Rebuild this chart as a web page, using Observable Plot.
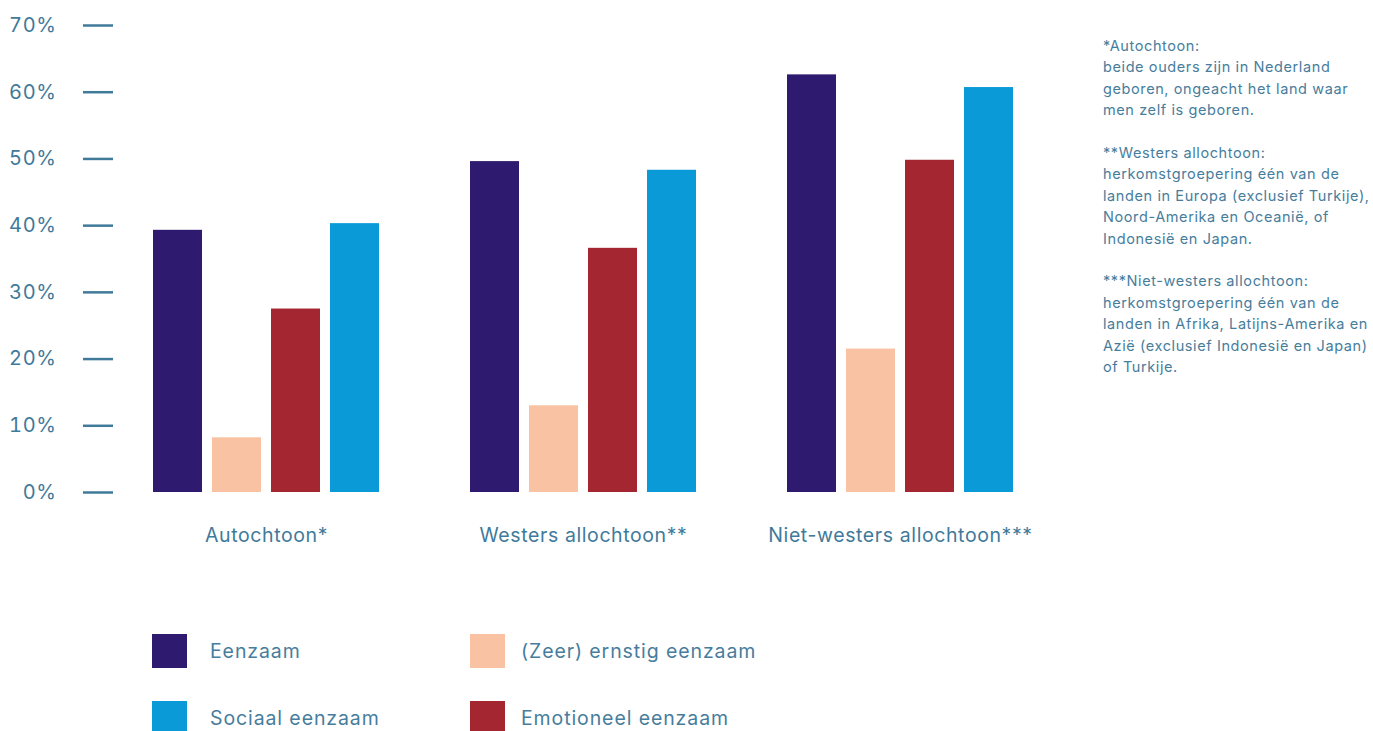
<!DOCTYPE html>
<html>
<head>
<meta charset="utf-8">
<script src="https://cdn.jsdelivr.net/npm/d3@7"></script>
<script src="https://cdn.jsdelivr.net/npm/@observablehq/plot@0.6"></script>
<style>
  html, body { margin: 0; padding: 0; background: #fff; }
  #wrap { position: relative; width: 1373px; height: 731px; overflow: hidden; font-family: Inter, "Noto Sans", sans-serif; color: #477d9c; }
  #chart { position: absolute; left: 0; top: 0; }
  #note { position: absolute; left: 1103px; top: 35px; font-size: 14.5px; letter-spacing: 0.6px; line-height: 21.4px; white-space: pre; color: #477d9c; }
  .lg { position: absolute; display: flex; align-items: center; font-size: 19.5px; letter-spacing: 0.9px; color: #477d9c; }
  .sw { width: 35px; height: 34px; }
</style>
</head>
<body>
<div id="wrap">
  <div id="chart"></div>
  <div id="note"></div>
  <div id="legend"></div>
</div>
<script>
const groups = ["Autochtoon*", "Westers allochtoon**", "Niet-westers allochtoon***"];
const series = ["Eenzaam", "(Zeer) ernstig eenzaam", "Emotioneel eenzaam", "Sociaal eenzaam"];
const colors = ["#2e1a6e", "#f9c3a3", "#a32631", "#0a9ad8"];
const eenzaam = [39.3, 49.6, 62.6];
const ernstig = [8.2, 13.0, 21.5];
const emotioneel = [27.5, 36.6, 49.8];
const sociaal = [40.3, 48.3, 60.7];
const yTicks = [0, 10, 20, 30, 40, 50, 60, 70];
const legendOrder = ["Eenzaam", "(Zeer) ernstig eenzaam", "Sociaal eenzaam", "Emotioneel eenzaam"];
const noteText = [
  "*Autochtoon:",
  "beide ouders zijn in Nederland",
  "geboren, ongeacht het land waar",
  "men zelf is geboren.",
  "",
  "**Westers allochtoon:",
  "herkomstgroepering één van de",
  "landen in Europa (exclusief Turkije),",
  "Noord-Amerika en Oceanië, of",
  "Indonesië en Japan.",
  "",
  "***Niet-westers allochtoon:",
  "herkomstgroepering één van de",
  "landen in Afrika, Latijns-Amerika en",
  "Azië (exclusief Indonesië en Japan)",
  "of Turkije."
];

const valuesBySeries = [eenzaam, ernstig, emotioneel, sociaal];
const data = [];
groups.forEach((g, gi) => series.forEach((s, si) => data.push({group: g, series: s, value: valuesBySeries[si][gi]})));

const axisColor = "#3f7a9a";
const plot = Plot.plot({
  width: 1060,
  height: 560,
  marginTop: 25,
  marginBottom: 68,
  marginLeft: 112,
  marginRight: 7,
  style: { fontFamily: "Inter, 'Noto Sans', sans-serif", background: "transparent", letterSpacing: "0.6px" },
  fx: { domain: groups, paddingInner: 0.288, paddingOuter: 0.126, label: null },
  x: { domain: series, paddingInner: 0.17, paddingOuter: 0, axis: null },
  y: { domain: [0, 70], label: null },
  color: { domain: series, range: colors },
  marks: [
    Plot.barY(data, { fx: "group", x: "series", y: "value", fill: "series" }),
    Plot.axisY({ ticks: yTicks, tickFormat: d => d + "%", tickSize: 30, tickPadding: 27, dx: -40, color: axisColor, strokeWidth: 2.5, fontSize: 20, label: null }),
    Plot.axisFx({ anchor: "bottom", tickSize: 0, tickPadding: 36, color: axisColor, fontSize: 19.5, label: null, style: { letterSpacing: "0.95px" } })
  ]
});
document.getElementById("chart").appendChild(plot);

document.getElementById("note").textContent = noteText.join("\n");

const legendPos = [
  { sx: 152, tx: 210, y: 634 },
  { sx: 470, tx: 521, y: 634 },
  { sx: 152, tx: 210, y: 701 },
  { sx: 470, tx: 521, y: 701 }
];
const lg = document.getElementById("legend");
legendOrder.forEach((name, i) => {
  const p = legendPos[i];
  const col = colors[series.indexOf(name)];
  const sw = document.createElement("div");
  sw.className = "sw";
  sw.style.cssText = `position:absolute;left:${p.sx}px;top:${p.y}px;background:${col}`;
  lg.appendChild(sw);
  const t = document.createElement("div");
  t.className = "lg";
  t.style.cssText = `left:${p.tx}px;top:${p.y}px;height:34px;`;
  t.textContent = name;
  lg.appendChild(t);
});
</script>
</body>
</html>
